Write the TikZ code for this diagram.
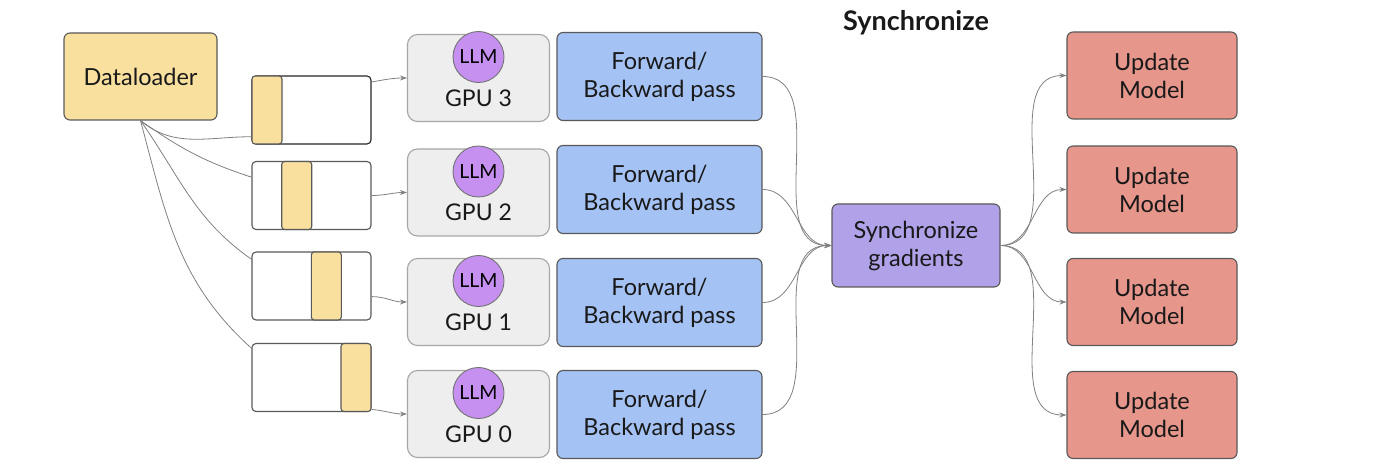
\documentclass[tikz,border=0pt]{standalone}
\usepackage{fontspec}
\setmainfont{Lato}
\usetikzlibrary{shapes,arrows.meta,positioning}

\definecolor{loaderfill}{HTML}{F9E09F}
\definecolor{gpufill}{HTML}{EEEEEE}
\definecolor{llmfill}{HTML}{C690F0}
\definecolor{passfill}{HTML}{A4C2F4}
\definecolor{syncfill}{HTML}{B0A1E8}
\definecolor{updatefill}{HTML}{E6968A}
\definecolor{linegray}{HTML}{808080}

\begin{document}
\begin{tikzpicture}[
                x=1pt, y=1pt,
                box/.style={
                        rectangle,
                        rounded corners=6pt,
                        draw=black!65,
                        line width=1.1pt,
                        align=center,
                        inner sep=0pt,
                        font=\fontsize{23.5}{28}\selectfont,
                        text=black!90
                    },
                loader/.style={box, fill=loaderfill, minimum width=153pt, minimum height=87pt},
                batch/.style={box, fill=white, rounded corners=4pt, minimum width=119pt, minimum height=68pt},
                stripe/.style={box, fill=loaderfill, rounded corners=3pt, minimum width=30pt, minimum height=68pt},
                gpu/.style={box, fill=gpufill, draw=black!35, rounded corners=10pt, minimum width=142pt, minimum height=87pt},
                llm/.style={circle, draw=black!55, line width=0.9pt, fill=llmfill, minimum size=51pt, inner sep=0pt, font=\fontsize{19.5}{22}\selectfont},
                label/.style={font=\fontsize{23}{27}\selectfont, inner sep=0pt, text=black!90},
                pass/.style={box, fill=passfill, minimum width=205pt, minimum height=88pt},
                sync/.style={box, fill=syncfill, minimum width=168pt, minimum height=83pt},
                update/.style={box, fill=updatefill, minimum width=170pt, minimum height=87pt},
                link/.style={draw=linegray, line width=0.8pt},
                arrow/.style={link, -{Stealth[length=7pt,width=5pt]}}
            ]

            \useasboundingbox (0,0) rectangle (1400,-470);

            % Dataloader and the four batches
            \node[loader] (data) at (140.5,-76.5) {Dataloader};
            \node[batch, draw=black!85] (b3) at (311.5,-110) {};
            \node[batch] (b2) at (311.5,-195.5) {};
            \node[batch] (b1) at (311.5,-286) {};
            \node[batch] (b0) at (311.5,-377.5) {};
            \node[stripe] (s3) at (267,-110) {};
            \node[stripe] (s2) at (296.7,-195.5) {};
            \node[stripe] (s1) at (326.3,-286) {};
            \node[stripe] (s0) at (356,-377.5) {};

            % GPUs with a copy of the model
            \node[gpu] (gpu3) at (478.5,-78) {};
            \node[gpu] (gpu2) at (478.5,-192.5) {};
            \node[gpu] (gpu1) at (478.5,-302) {};
            \node[gpu] (gpu0) at (478.5,-414) {};
            \node[llm] (llm3) at ([yshift=21pt]gpu3.center) {LLM};
            \node[llm] (llm2) at ([yshift=21pt]gpu2.center) {LLM};
            \node[llm] (llm1) at ([yshift=21pt]gpu1.center) {LLM};
            \node[llm] (llm0) at ([yshift=21pt]gpu0.center) {LLM};
            \node[label] (g3) at ([yshift=-20pt]gpu3.center) {GPU 3};
            \node[label] (g2) at ([yshift=-20pt]gpu2.center) {GPU 2};
            \node[label] (g1) at ([yshift=-20pt]gpu1.center) {GPU 1};
            \node[label] (g0) at ([yshift=-20pt]gpu0.center) {GPU 0};

            % Passes, synchronisation, updates
            \node[pass] (fw3) at (659.5,-76.5) {Forward/\\Backward pass};
            \node[pass] (fw2) at (659.5,-189.5) {Forward/\\Backward pass};
            \node[pass] (fw1) at (659.5,-302.5) {Forward/\\Backward pass};
            \node[pass] (fw0) at (659.5,-414.5) {Forward/\\Backward pass};
            \node[sync] (sync) at (916,-245.5) {Synchronize\\gradients};
            \node[label, font=\bfseries\fontsize{27}{30}\selectfont] (title) at (916,-23) {Synchronize};
            \node[update] (up3) at (1152,-75.5) {Update\\Model};
            \node[update] (up2) at (1152,-189.5) {Update\\Model};
            \node[update] (up1) at (1152,-302) {Update\\Model};
            \node[update] (up0) at (1152,-415) {Update\\Model};

            % Dataloader to batches
            \draw[link] (data.south) to[out=-40, in=180] (b3.204);
            \draw[link] (data.south) to[out=-35, in=162] (b2.163);
            \draw[link] (data.south) to[out=-55, in=145] (b1.156);
            \draw[link] (data.south) to[out=-75, in=138] (b0.154);

            % Batches to GPUs
            \draw[arrow] (b3.25) to[out=10, in=180] (gpu3.west);
            \draw[arrow] (b2.east) to[out=0, in=180] (gpu2.west);
            \draw[arrow] (b1.-10) to[out=0, in=180] (gpu1.west);
            \draw[arrow] (b0.-28) to[out=-5, in=180] (gpu0.west);

            % Gradients are gathered, then every copy is updated
            \draw[arrow] (fw3.east) to[out=0, in=180] (sync.west);
            \draw[arrow] (fw2.east) to[out=0, in=180] (sync.west);
            \draw[arrow] (fw1.east) to[out=0, in=180] (sync.west);
            \draw[arrow] (fw0.east) to[out=0, in=180] (sync.west);
            \draw[arrow] (sync.east) to[out=0, in=180] (up3.west);
            \draw[arrow] (sync.east) to[out=0, in=180] (up2.west);
            \draw[arrow] (sync.east) to[out=0, in=180] (up1.west);
            \draw[arrow] (sync.east) to[out=0, in=180] (up0.west);

        \end{tikzpicture}
\end{document}
